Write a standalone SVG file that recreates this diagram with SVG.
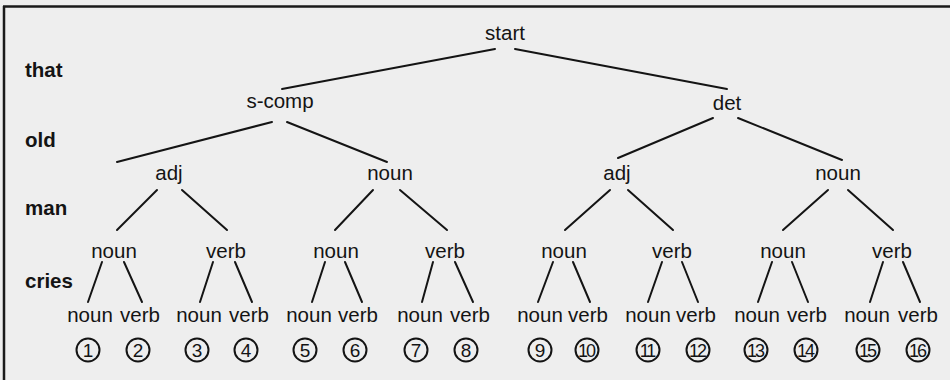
<svg xmlns="http://www.w3.org/2000/svg" width="950" height="380" viewBox="0 0 950 380">
<style>
.t{font-family:"Liberation Sans",Arial,sans-serif;font-size:20.5px;fill:#141414;text-anchor:middle}
.lb{font-family:"Liberation Sans",Arial,sans-serif;font-size:20.5px;font-weight:bold;fill:#141414}
.n{font-family:"Liberation Sans",Arial,sans-serif;font-size:19px;fill:#141414;text-anchor:middle}
.n2{font-family:"Liberation Sans",Arial,sans-serif;font-size:18px;fill:#141414;text-anchor:middle;letter-spacing:-2px}
.c{fill:none;stroke:#141414;stroke-width:2}
#edges line{stroke:#141414;stroke-width:2;stroke-linecap:round}
</style>
<rect width="950" height="380" fill="#eeeeee"/>
<line x1="3" y1="6.5" x2="950" y2="6.5" stroke="#1a1a1a" stroke-width="2.5"/>
<line x1="4" y1="6" x2="4" y2="380" stroke="#1a1a1a" stroke-width="2.5"/>
<g id="row-labels">
<text class="lb" x="25" y="77">that</text>
<text class="lb" x="25" y="147">old</text>
<text class="lb" x="25" y="215">man</text>
<text class="lb" x="25" y="288">cries</text>
</g>
<g id="edges">
<line x1="282" y1="89" x2="495" y2="49"/>
<line x1="515" y1="49" x2="727" y2="89"/>
<line x1="272" y1="122" x2="117" y2="162"/>
<line x1="287" y1="122" x2="387" y2="162"/>
<line x1="713" y1="118" x2="618" y2="158"/>
<line x1="738" y1="118" x2="842" y2="160"/>
<line x1="157" y1="190" x2="117" y2="230"/>
<line x1="182" y1="190" x2="227" y2="230"/>
<line x1="373" y1="190" x2="335" y2="230"/>
<line x1="400" y1="190" x2="447" y2="230"/>
<line x1="610" y1="190" x2="565" y2="230"/>
<line x1="628" y1="190" x2="673" y2="230"/>
<line x1="828" y1="190" x2="783" y2="230"/>
<line x1="848" y1="190" x2="893" y2="230"/>
<line x1="102" y1="262" x2="88" y2="302"/>
<line x1="124" y1="262" x2="142" y2="302"/>
<line x1="213" y1="262" x2="200" y2="302"/>
<line x1="235" y1="262" x2="252" y2="302"/>
<line x1="325" y1="262" x2="312" y2="302"/>
<line x1="345" y1="262" x2="362" y2="302"/>
<line x1="433" y1="262" x2="422" y2="302"/>
<line x1="455" y1="262" x2="473" y2="302"/>
<line x1="553" y1="262" x2="538" y2="302"/>
<line x1="573" y1="262" x2="590" y2="302"/>
<line x1="662" y1="262" x2="648" y2="302"/>
<line x1="682" y1="262" x2="698" y2="302"/>
<line x1="772" y1="262" x2="758" y2="302"/>
<line x1="792" y1="262" x2="808" y2="302"/>
<line x1="883" y1="262" x2="870" y2="302"/>
<line x1="903" y1="262" x2="920" y2="302"/>
</g>
<g id="start"><text class="t" x="505" y="40">start</text></g>
<g id="s-comp"><text class="t" x="280" y="108">s-comp</text></g>
<g id="det"><text class="t" x="727" y="110">det</text></g>
<g id="adj-1"><text class="t" x="169" y="180">adj</text></g>
<g id="noun-1"><text class="t" x="390" y="180">noun</text></g>
<g id="adj-2"><text class="t" x="617" y="180">adj</text></g>
<g id="noun-2"><text class="t" x="838" y="180">noun</text></g>
<g id="l4-1"><text class="t" x="114" y="258">noun</text></g>
<g id="l4-2"><text class="t" x="226" y="258">verb</text></g>
<g id="l4-3"><text class="t" x="336" y="258">noun</text></g>
<g id="l4-4"><text class="t" x="445" y="258">verb</text></g>
<g id="l4-5"><text class="t" x="564" y="258">noun</text></g>
<g id="l4-6"><text class="t" x="672" y="258">verb</text></g>
<g id="l4-7"><text class="t" x="783" y="258">noun</text></g>
<g id="l4-8"><text class="t" x="892" y="258">verb</text></g>
<g id="leaf-1"><text class="t" x="90" y="322">noun</text><circle class="c" cx="88" cy="350" r="11.5"/><text class="n" x="88" y="357">1</text></g>
<g id="leaf-2"><text class="t" x="140" y="322">verb</text><circle class="c" cx="138" cy="350" r="11.5"/><text class="n" x="138" y="357">2</text></g>
<g id="leaf-3"><text class="t" x="199" y="322">noun</text><circle class="c" cx="197" cy="350" r="11.5"/><text class="n" x="197" y="357">3</text></g>
<g id="leaf-4"><text class="t" x="249" y="322">verb</text><circle class="c" cx="246" cy="350" r="11.5"/><text class="n" x="246" y="357">4</text></g>
<g id="leaf-5"><text class="t" x="309" y="322">noun</text><circle class="c" cx="305" cy="350" r="11.5"/><text class="n" x="305" y="357">5</text></g>
<g id="leaf-6"><text class="t" x="358" y="322">verb</text><circle class="c" cx="355" cy="350" r="11.5"/><text class="n" x="355" y="357">6</text></g>
<g id="leaf-7"><text class="t" x="420" y="322">noun</text><circle class="c" cx="416" cy="350" r="11.5"/><text class="n" x="416" y="357">7</text></g>
<g id="leaf-8"><text class="t" x="470" y="322">verb</text><circle class="c" cx="466" cy="350" r="11.5"/><text class="n" x="466" y="357">8</text></g>
<g id="leaf-9"><text class="t" x="540" y="322">noun</text><circle class="c" cx="540" cy="350" r="11.5"/><text class="n" x="540" y="357">9</text></g>
<g id="leaf-10"><text class="t" x="588" y="322">verb</text><circle class="c" cx="587" cy="350" r="11.5"/><text class="n2" x="586" y="356.5">10</text></g>
<g id="leaf-11"><text class="t" x="648" y="322">noun</text><circle class="c" cx="648" cy="350" r="11.5"/><text class="n2" x="647" y="356.5">11</text></g>
<g id="leaf-12"><text class="t" x="696" y="322">verb</text><circle class="c" cx="698" cy="350" r="11.5"/><text class="n2" x="697" y="356.5">12</text></g>
<g id="leaf-13"><text class="t" x="757" y="322">noun</text><circle class="c" cx="756" cy="350" r="11.5"/><text class="n2" x="755" y="356.5">13</text></g>
<g id="leaf-14"><text class="t" x="807" y="322">verb</text><circle class="c" cx="806" cy="350" r="11.5"/><text class="n2" x="805" y="356.5">14</text></g>
<g id="leaf-15"><text class="t" x="867" y="322">noun</text><circle class="c" cx="868" cy="350" r="11.5"/><text class="n2" x="867" y="356.5">15</text></g>
<g id="leaf-16"><text class="t" x="918" y="322">verb</text><circle class="c" cx="918" cy="350" r="11.5"/><text class="n2" x="917" y="356.5">16</text></g>
</svg>
